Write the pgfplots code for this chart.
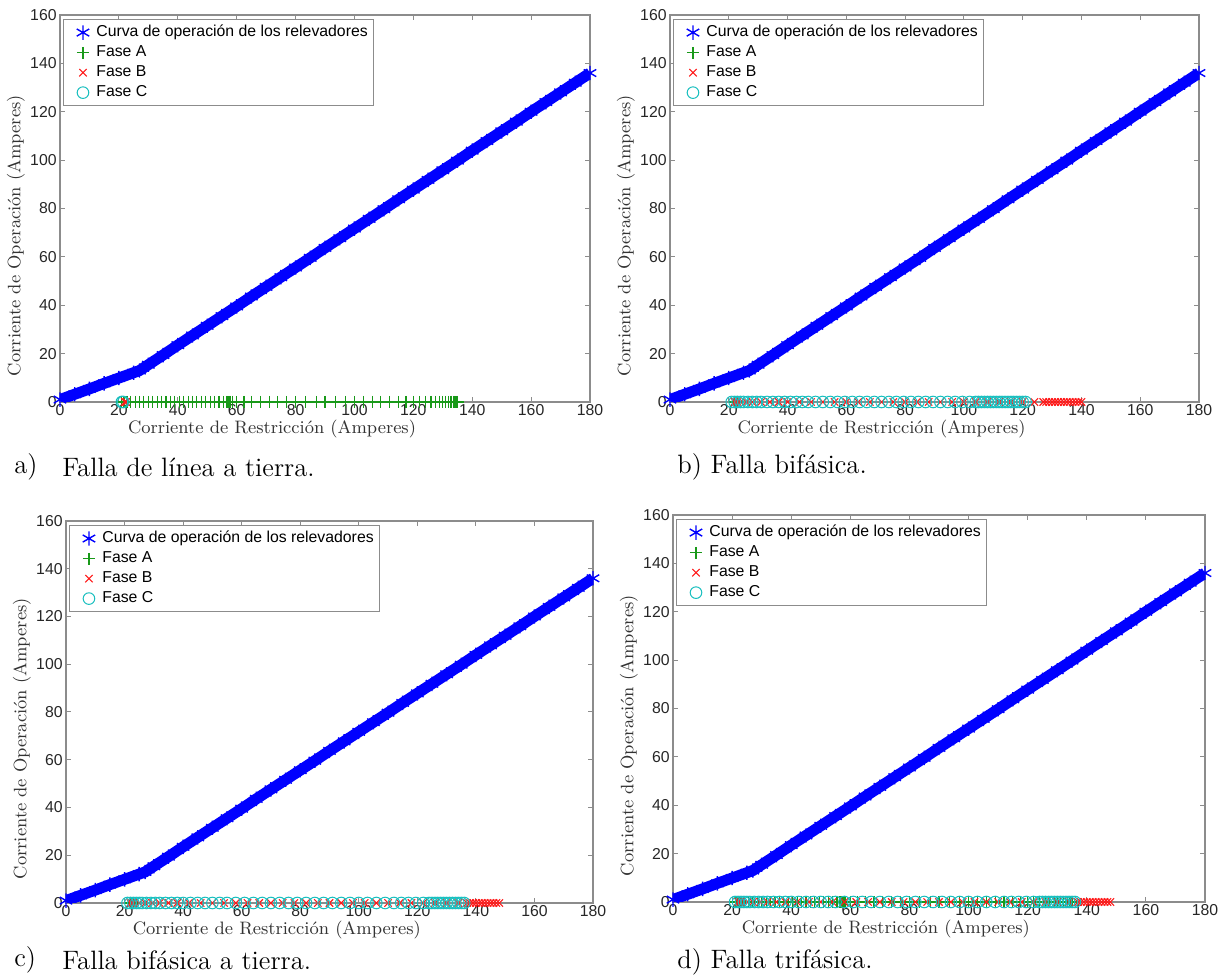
\documentclass[border=0pt]{standalone}
\usepackage{pgfplots}
\pgfplotsset{compat=1.18}
\usepackage{pgfplotstable}
\usepackage{fontspec}
\newfontfamily\sansf{Liberation Sans}
\definecolor{mblue}{rgb}{0,0,1}
\definecolor{mgreen}{rgb}{0.1,0.6,0.1}
\definecolor{mred}{rgb}{1,0.1,0.1}
\definecolor{mcyan}{rgb}{0.1,0.75,0.75}
\definecolor{axgray}{gray}{0.55}

\pgfplotstableread[row sep=\\]{x y\\ 0 1.0\\ 5 3.2\\ 10 5.4\\ 15 7.7\\ 20 9.9\\ 25 12.1\\ 27 13.0\\ 30 15.4\\ 35 19.4\\ 40 23.5\\ 45 27.5\\ 50 31.5\\ 55 35.5\\ 60 39.5\\ 65 43.6\\ 70 47.6\\ 75 51.6\\ 80 55.6\\ 85 59.6\\ 90 63.7\\ 95 67.7\\ 100 71.7\\ 105 75.7\\ 110 79.7\\ 115 83.8\\ 120 87.8\\ 125 91.8\\ 130 95.8\\ 135 99.8\\ 140 103.9\\ 145 107.9\\ 150 111.9\\ 155 115.9\\ 160 120.0\\ 165 124.0\\ 170 128.0\\ 175 132.0\\ 180 136.0\\}\curve

% Panel a (also Fase A of panel d)
\pgfplotstableread[row sep=\\]{x y\\ 21 0\\ 21.5 0\\ 22 0\\ 22.5 0\\ 23 0\\ 24 0\\ 25.5 0\\ 27 0\\ 28.5 0\\ 30 0\\ 31.5 0\\ 33 0\\ 34.5 0\\ 36 0\\ 37.5 0\\ 39 0\\ 40.5 0\\ 42 0\\ 43.5 0\\ 45 0\\ 46.5 0\\ 48 0\\ 49.5 0\\ 51 0\\ 52.5 0\\ 54 0\\ 55.5 0\\ 56.5 0\\ 57 0\\ 57.3 0\\ 57.6 0\\ 58 0\\ 58.5 0\\ 60 0\\ 62.5 0\\ 65 0\\ 68 0\\ 71 0\\ 74 0\\ 77 0\\ 80 0\\ 83.5 0\\ 87 0\\ 90 0\\ 93.5 0\\ 97 0\\ 100 0\\ 103 0\\ 106 0\\ 109 0\\ 112 0\\ 115 0\\ 117.5 0\\ 120 0\\ 122 0\\ 124 0\\ 126 0\\ 127.5 0\\ 129 0\\ 130 0\\ 131 0\\ 132 0\\ 132.8 0\\ 133.5 0\\ 134 0\\ 134.5 0\\ 135 0\\}\Aa
\pgfplotstableread[row sep=\\]{x y\\ 22 0\\ 22.5 0\\}\Ba
\pgfplotstableread[row sep=\\]{x y\\ 21 0\\ 21.5 0\\}\Ca

% Panel b
\pgfplotstableread[row sep=\\]{x y\\ 22 0\\ 22.5 0\\ 23 0\\}\Ab
\pgfplotstableread[row sep=\\]{x y\\ 22 0\\ 22.5 0\\ 23 0\\ 24 0\\ 26 0\\ 28 0\\ 31 0\\ 34 0\\ 37 0\\ 40 0\\ 44 0\\ 48 0\\ 52 0\\ 56 0\\ 60 0\\ 64 0\\ 68 0\\ 72 0\\ 76 0\\ 80 0\\ 84 0\\ 88 0\\ 92 0\\ 96 0\\ 100 0\\ 104 0\\ 108 0\\ 112 0\\ 116 0\\ 120 0\\ 124 0\\ 127 0\\ 128 0\\ 129 0\\ 130 0\\ 131 0\\ 132 0\\ 133 0\\ 134 0\\ 135 0\\ 136 0\\ 137 0\\ 138 0\\ 139 0\\ 140 0\\}\Bb
\pgfplotstableread[row sep=\\]{x y\\ 21 0\\ 22 0\\ 23 0\\ 24 0\\ 25 0\\ 26.5 0\\ 28 0\\ 29.5 0\\ 31 0\\ 33 0\\ 35 0\\ 37 0\\ 39 0\\ 41 0\\ 43 0\\ 45 0\\ 47 0\\ 49.5 0\\ 52 0\\ 54.5 0\\ 57 0\\ 59.5 0\\ 62 0\\ 64.5 0\\ 67 0\\ 69.5 0\\ 72 0\\ 74.5 0\\ 77 0\\ 79.5 0\\ 82 0\\ 84.5 0\\ 87 0\\ 89.5 0\\ 92 0\\ 94.5 0\\ 97 0\\ 99.5 0\\ 102 0\\ 104 0\\ 105 0\\ 106 0\\ 107 0\\ 108 0\\ 109 0\\ 110 0\\ 111 0\\ 112 0\\ 113 0\\ 114 0\\ 115 0\\ 116 0\\ 117 0\\ 118 0\\ 119 0\\ 120 0\\ 121 0\\}\Cb

% Panel c (B and C also for panel d)
\pgfplotstableread[row sep=\\]{x y\\ 22 0\\ 22.5 0\\ 23 0\\}\Ac
\pgfplotstableread[row sep=\\]{x y\\ 22 0\\ 22.5 0\\ 23 0\\ 25 0\\ 27 0\\ 29.5 0\\ 32 0\\ 35 0\\ 38 0\\ 42 0\\ 46 0\\ 50 0\\ 54 0\\ 58 0\\ 62 0\\ 66 0\\ 70 0\\ 74 0\\ 78 0\\ 82 0\\ 86 0\\ 90 0\\ 94 0\\ 98 0\\ 102 0\\ 106 0\\ 110 0\\ 114 0\\ 118 0\\ 122 0\\ 126 0\\ 130 0\\ 134 0\\ 137 0\\ 138 0\\ 139 0\\ 140 0\\ 141 0\\ 142 0\\ 143 0\\ 144 0\\ 145 0\\ 146 0\\ 147 0\\ 148 0\\}\Bc
\pgfplotstableread[row sep=\\]{x y\\ 21 0\\ 22 0\\ 23 0\\ 24 0\\ 25 0\\ 26 0\\ 27.5 0\\ 29 0\\ 30.5 0\\ 32 0\\ 34 0\\ 36 0\\ 38 0\\ 40 0\\ 42.5 0\\ 45 0\\ 47.5 0\\ 50 0\\ 52.5 0\\ 55 0\\ 58 0\\ 61 0\\ 64 0\\ 67 0\\ 70 0\\ 73 0\\ 76 0\\ 79 0\\ 82 0\\ 85 0\\ 88 0\\ 91 0\\ 94 0\\ 97 0\\ 100 0\\ 103 0\\ 106 0\\ 109 0\\ 112 0\\ 114.5 0\\ 117 0\\ 119.5 0\\ 122 0\\ 124 0\\ 125 0\\ 126 0\\ 127 0\\ 128 0\\ 129 0\\ 130 0\\ 131 0\\ 132 0\\ 133 0\\ 134 0\\ 135 0\\ 136 0\\}\Cc

\pgfplotsset{
  panel/.style={
    scale only axis, anchor=south west,
    xmin=0, xmax=180, ymin=0, ymax=160,
    xtick={0,20,...,180}, ytick={0,20,...,160},
    tick align=inside, major tick length=2.5pt,
    axis line style={axgray, line width=0.6pt},
    tick style={axgray, line width=0.5pt},
    tick label style={font=\sansf\fontsize{7.9}{9}\selectfont, text=black!85},
    /pgf/number format/assume math mode=true,
    xticklabel style={inner sep=1pt},
    yticklabel style={inner sep=1.5pt},
    xlabel={Corriente de Restricción (Amperes)},
    ylabel={Corriente de Operación (Amperes)},
    label style={font=\fontsize{9}{10}\selectfont, text=black!80},
    xlabel style={at={(ticklabel cs:0.40)}, anchor=near ticklabel, inner sep=1pt},
    ylabel style={at={(ticklabel cs:0.43)}, anchor=near ticklabel, inner sep=1pt},
    legend style={at={(rel axis cs:0.006,0.99)}, anchor=north west, draw=axgray,
      font=\sansf\fontsize{7.9}{9}\selectfont, inner sep=1pt, row sep=-1pt,
      cells={anchor=west}},
    legend cell align=left,
    legend image code/.code={\path (-8.5pt,0pt) (4.5pt,0pt); \draw[##1] plot coordinates {(0pt,0pt)};},
  },
  curveline/.style={mblue, line width=5.5pt, forget plot},
  curvestars/.style={only marks, mark=asterisk, mark size=3.6pt, color=mblue, mark options={line width=0.7pt}},
  faseA/.style={only marks, mark=+, mark size=3pt, color=mgreen, mark options={line width=0.55pt}},
  faseB/.style={only marks, mark=x, mark size=2.6pt, color=mred, mark options={line width=0.55pt}},
  faseC/.style={only marks, mark=o, mark size=2.9pt, color=mcyan, mark options={line width=0.5pt}},
}

\begin{document}
\begin{tikzpicture}
% a
\begin{axis}[panel, at={(30pt,287.5pt)}, width=265pt, height=193.5pt]
  \addplot[curveline] table {\curve};
  \addplot[curvestars] table {\curve};
  \addplot[faseA] table {\Aa};
  \addplot[faseB] table {\Ba};
  \addplot[faseC] table {\Ca};
  \legend{Curva de operación de los relevadores, Fase A, Fase B, Fase C}
\end{axis}
% b
\begin{axis}[panel, at={(335pt,287.5pt)}, width=264.5pt, height=193.5pt]
  \addplot[curveline] table {\curve};
  \addplot[curvestars] table {\curve};
  \addplot[faseA] table {\Ab};
  \addplot[faseB] table {\Bb};
  \addplot[faseC] table {\Cb};
  \legend{Curva de operación de los relevadores, Fase A, Fase B, Fase C}
\end{axis}
% c
\begin{axis}[panel, at={(33pt,37pt)}, width=263.5pt, height=191pt]
  \addplot[curveline] table {\curve};
  \addplot[curvestars] table {\curve};
  \addplot[faseA] table {\Ac};
  \addplot[faseB] table {\Bc};
  \addplot[faseC] table {\Cc};
  \legend{Curva de operación de los relevadores, Fase A, Fase B, Fase C}
\end{axis}
% d
\begin{axis}[panel, at={(336.5pt,37.5pt)}, width=266pt, height=193.5pt]
  \addplot[curveline] table {\curve};
  \addplot[curvestars] table {\curve};
  \addplot[faseA] table {\Aa};
  \addplot[faseB] table {\Bc};
  \addplot[faseC] table {\Cc};
  \legend{Curva de operación de los relevadores, Fase A, Fase B, Fase C}
\end{axis}
% captions
\node[anchor=west, font=\fontsize{13.3}{15}\selectfont, inner sep=0pt] at (7pt,255pt) {a)};
\node[anchor=west, font=\fontsize{13.3}{15}\selectfont, inner sep=0pt] at (31pt,255pt) {Falla de línea a tierra.};
\node[anchor=west, font=\fontsize{13.3}{15}\selectfont, inner sep=0pt] at (338.5pt,255pt) {b) Falla bifásica.};
\node[anchor=west, font=\fontsize{13.3}{15}\selectfont, inner sep=0pt] at (7pt,8.5pt) {c)};
\node[anchor=west, font=\fontsize{13.3}{15}\selectfont, inner sep=0pt] at (31pt,8.5pt) {Falla bifásica a tierra.};
\node[anchor=west, font=\fontsize{13.3}{15}\selectfont, inner sep=0pt] at (338.5pt,7.5pt) {d) Falla trifásica.};
\pgfresetboundingbox
\path[use as bounding box] (0,0) rectangle (613pt,488.5pt);
\end{tikzpicture}
\end{document}
